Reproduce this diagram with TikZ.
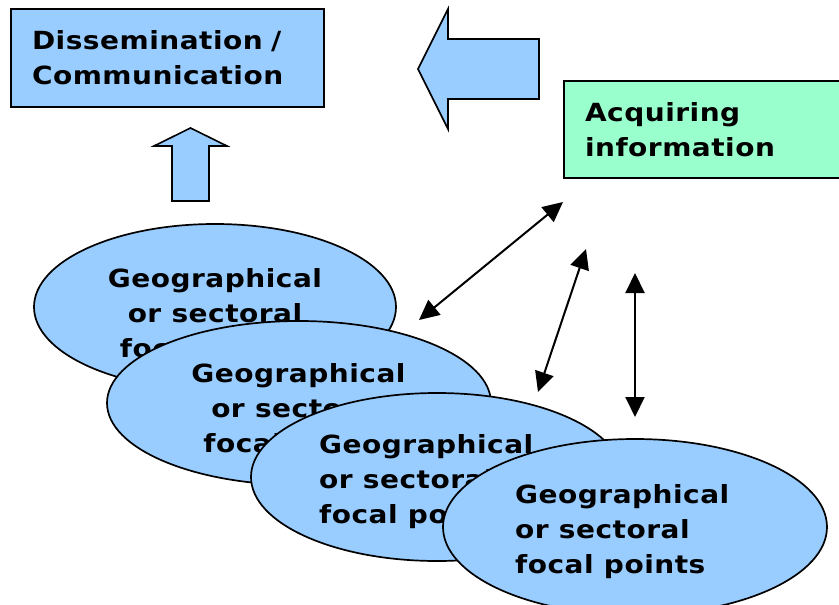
\documentclass[tikz,border=0pt]{standalone}
\usepackage{fontspec}
\setmainfont{DejaVu Sans}[FakeStretch=1.12, LetterSpace=2]
\usetikzlibrary{shapes.geometric,arrows.meta}

\definecolor{skyfill}{RGB}{153,204,255}
\definecolor{mintfill}{RGB}{153,255,204}

\tikzset{
  lbl/.style={font=\fontsize{25}{35}\selectfont\bfseries, inner sep=0pt},
  infobox/.style={draw, line width=2pt, rectangle, anchor=north west,
    inner xsep=21pt, align=left, lbl},
  blob/.style={ellipse, draw, line width=1.7pt, fill=skyfill, inner sep=0pt},
  blockarrow/.style={draw, line width=1.6pt, fill=skyfill, line join=miter},
  dbl/.style={{Triangle[length=20pt,width=19pt]}-{Triangle[length=20pt,width=19pt]},
    line width=2pt}
}

\begin{document}
\begin{tikzpicture}[x=1pt,y=-1pt]
\useasboundingbox (0,0) rectangle (839,605);

% top boxes
\node[infobox, fill=skyfill, minimum width=313pt, minimum height=98pt,
      text width=271pt] (dissem) at (10,8) {Dissemination /\\Communication};
\node[infobox, fill=mintfill, minimum width=285pt, minimum height=97pt,
      text width=243pt] (acquire) at (563,80) {Acquiring\\information};

% block arrows
\draw[blockarrow] (418,69) -- (448,9) -- (448,39) -- (539,39) -- (539,99)
  -- (448,99) -- (448,129) -- cycle;
\draw[blockarrow] (190.5,128) -- (227,146) -- (209,146) -- (209,201)
  -- (172,201) -- (172,146) -- (154,146) -- cycle;

% stacked focal-point ellipses, back to front
\node[blob, minimum width=362pt, minimum height=166pt] (fp1) at (215,307) {};
\node[lbl, align=center] (fp1t) at (215,315.5)
  {Geographical\\or sectoral\\focal points};

\node[blob, minimum width=384pt, minimum height=164pt] (fp2) at (299,403) {};
\node[lbl, align=center] (fp2t) at (298.5,410.5)
  {Geographical\\or sectoral\\focal points};

\node[blob, minimum width=372pt, minimum height=168pt] (fp3) at (437,477) {};
\node[lbl, align=left, anchor=west] (fp3t) at (319,481.5)
  {Geographical\\or sectoral\\focal points};

\node[blob, minimum width=384pt, minimum height=176pt] (fp4) at (635,527) {};
\node[lbl, align=left, anchor=west] (fp4t) at (515,531.5)
  {Geographical\\or sectoral\\focal points};

% two-way links
\coordinate (l1a) at (563,202);
\coordinate (l1b) at (419,320);
\coordinate (l2a) at (586,249);
\coordinate (l2b) at (538,392);
\coordinate (l3a) at (635,273);
\coordinate (l3b) at (635,417);
\draw[dbl] (l1a) -- (l1b);
\draw[dbl] (l2a) -- (l2b);
\draw[dbl] (l3a) -- (l3b);
\end{tikzpicture}
\end{document}
